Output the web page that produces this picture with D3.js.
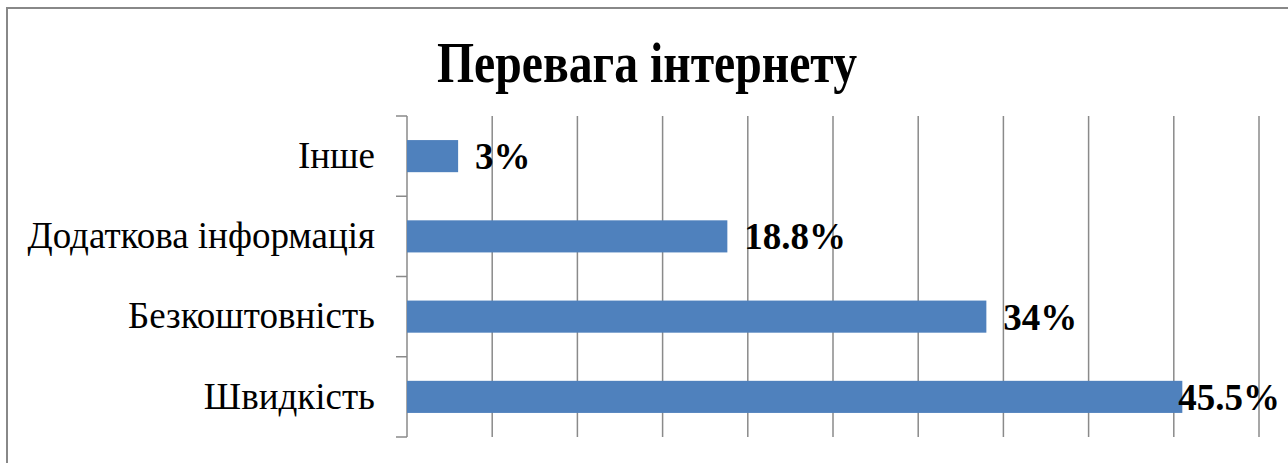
<!DOCTYPE html>
<html>
<head>
<meta charset="utf-8">
<script src="https://cdn.jsdelivr.net/npm/d3@7"></script>
<style>
  body { margin: 0; background: #fff; }
  svg { display: block; }
</style>
</head>
<body>
<svg id="chart"></svg>
<script>
const categories = ["Інше", "Додаткова інформація", "Безкоштовність", "Швидкість"];
const values = [3, 18.8, 34, 45.5];
const valueLabels = ["3%", "18.8%", "34%", "45.5%"];
const xTicks = [0, 5, 10, 15, 20, 25, 30, 35, 40, 45, 50];

const W = 1288, H = 463;
const margin = {top: 116, right: 29, bottom: 26, left: 407};
const width = W - margin.left - margin.right;
const height = H - margin.top - margin.bottom;

const svg = d3.select("#chart")
  .attr("width", W)
  .attr("height", H);

// chart frame
svg.append("rect")
  .attr("x", 7).attr("y", 8)
  .attr("width", W + 20).attr("height", H + 20)
  .attr("fill", "#fff")
  .attr("stroke", "#888")
  .attr("stroke-width", 2);

svg.append("text")
  .attr("x", 647).attr("y", 82)
  .attr("text-anchor", "middle")
  .attr("font-family", "Liberation Serif, Times New Roman, serif")
  .attr("font-weight", "bold")
  .attr("font-size", 58)
  .attr("textLength", 420)
  .attr("lengthAdjust", "spacingAndGlyphs")
  .text("Перевага інтернету");

const g = svg.append("g")
  .attr("transform", `translate(${margin.left}, ${margin.top})`);

const xScale = d3.scaleLinear()
  .domain([0, 50])
  .range([0, width]);

const yScale = d3.scaleBand()
  .domain(categories)
  .range([0, height])
  .paddingInner(0.6)
  .paddingOuter(0.3);

// vertical gridlines
g.selectAll("line.grid")
  .data(xTicks.slice(1))
  .enter()
  .append("line")
  .attr("class", "grid")
  .attr("x1", d => xScale(d))
  .attr("x2", d => xScale(d))
  .attr("y1", 0)
  .attr("y2", height)
  .attr("stroke", "#8a8a8a")
  .attr("stroke-width", 1.5);

// category axis line + boundary ticks
g.append("line")
  .attr("x1", 0).attr("x2", 0)
  .attr("y1", 0).attr("y2", height)
  .attr("stroke", "#8a8a8a")
  .attr("stroke-width", 1.5);

const bounds = d3.range(categories.length + 1).map(i => i * yScale.step());
g.selectAll("line.ytick")
  .data(bounds)
  .enter()
  .append("line")
  .attr("class", "ytick")
  .attr("x1", -11).attr("x2", 0)
  .attr("y1", d => d).attr("y2", d => d)
  .attr("stroke", "#8a8a8a")
  .attr("stroke-width", 1.5);

// category labels
const yAxis = d3.axisLeft(yScale).tickSize(0).tickPadding(32);
g.append("g")
  .call(yAxis)
  .call(ax => ax.select(".domain").remove())
  .selectAll("text")
  .attr("font-family", "Liberation Serif, Times New Roman, serif")
  .attr("font-size", 37)
  .attr("fill", "#000");

// bars
g.selectAll("rect.bar")
  .data(values)
  .enter()
  .append("rect")
  .attr("class", "bar")
  .attr("x", 0)
  .attr("y", (d, i) => yScale(categories[i]))
  .attr("width", d => xScale(d))
  .attr("height", yScale.bandwidth())
  .attr("fill", "#4F81BD");

// value labels
g.selectAll("text.val")
  .data(values)
  .enter()
  .append("text")
  .attr("class", "val")
  .attr("y", (d, i) => yScale(categories[i]) + yScale.bandwidth() / 2)
  .attr("dy", "0.35em")
  .attr("font-family", "Liberation Serif, Times New Roman, serif")
  .attr("font-weight", "bold")
  .attr("font-size", 37)
  .attr("fill", "#000")
  .text((d, i) => valueLabels[i])
  .attr("x", function(d) {
    const w = this.getComputedTextLength();
    return Math.min(xScale(d) + 17, W - 8 - margin.left - w);
  });
</script>
</body>
</html>
